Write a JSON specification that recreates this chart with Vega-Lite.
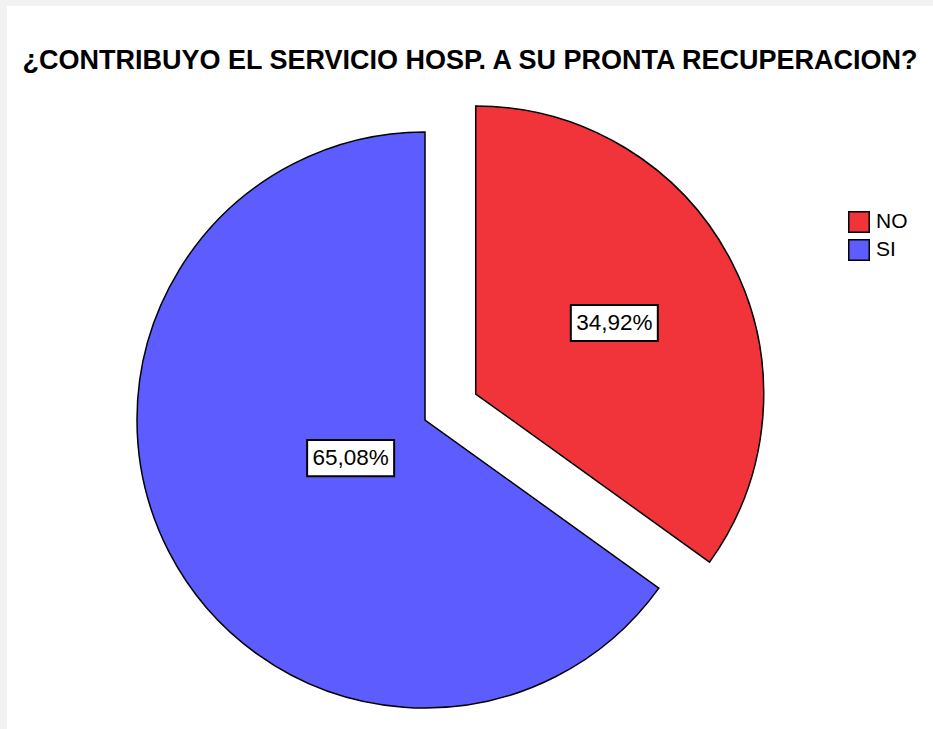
{
  "$schema": "https://vega.github.io/schema/vega-lite/v6.json",
  "width": 926,
  "height": 723,
  "autosize": {"type": "none"},
  "padding": {"left": 7, "top": 6, "right": 0, "bottom": 0},
  "background": "#f2f2f2",
  "view": {"fill": "white", "stroke": null},
  "title": {
    "text": "¿CONTRIBUYO EL SERVICIO HOSP. A SU PRONTA RECUPERACION?",
    "font": "Liberation Sans",
    "fontSize": 27,
    "fontWeight": "bold",
    "color": "black",
    "anchor": "middle",
    "frame": "group",
    "baseline": "alphabetic",
    "offset": -90
  },
  "data": {"values": [
    {"cat": "NO", "pct": 34.92},
    {"cat": "SI", "pct": 65.08}
  ]},
  "transform": [
    {"stack": "pct", "groupby": [], "sort": [{"field": "cat", "order": "ascending"}], "as": ["v0", "v1"]},
    {"calculate": "(datum.v0 + datum.v1) / 100 * PI", "as": "mid"},
    {"calculate": "(datum.v1 - datum.v0) / 100 * PI", "as": "half"},
    {"calculate": "datum.cat == 'NO' ? 57 * sin(datum.mid) : 0", "as": "ex"},
    {"calculate": "datum.cat == 'NO' ? 57 * cos(datum.mid) : 0", "as": "ey"},
    {"calculate": "2 * 288 * sin(datum.half) / (3 * datum.half)", "as": "cr"},
    {"calculate": "datum.ex + datum.cr * sin(datum.mid)", "as": "lx"},
    {"calculate": "datum.ey + datum.cr * cos(datum.mid)", "as": "ly"},
    {"calculate": "replace(format(datum.pct, '.2f'), '.', ',') + '%'", "as": "label"}
  ],
  "layer": [
    {
      "mark": {"type": "arc", "radius": 288, "stroke": "black", "strokeWidth": 1.5},
      "encoding": {
        "theta": {"field": "v0", "type": "quantitative", "scale": {"domain": [0, 100]}},
        "theta2": {"field": "v1"},
        "x": {"field": "ex", "type": "quantitative", "axis": null, "scale": {"domain": [-418, 508], "nice": false, "zero": false}},
        "y": {"field": "ey", "type": "quantitative", "axis": null, "scale": {"domain": [-309, 414], "nice": false, "zero": false}},
        "color": {
          "field": "cat",
          "type": "nominal",
          "scale": {"domain": ["NO", "SI"], "range": ["#F0343A", "#5C5CFF"]},
          "legend": {
            "title": null,
            "orient": "none",
            "legendX": 841,
            "legendY": 205,
            "symbolType": "square",
            "symbolSize": 420,
            "symbolStrokeColor": "black",
            "symbolStrokeWidth": 1.5,
            "symbolOpacity": 1,
            "labelFont": "Liberation Sans",
            "labelFontSize": 21,
            "labelColor": "black",
            "labelOffset": 6,
            "rowPadding": 0,
            "padding": 0
          }
        }
      }
    },
    {
      "mark": {"type": "point", "shape": "M-1,-0.414H1V0.414H-1Z", "size": 7569, "filled": true, "fill": "white", "stroke": "black", "strokeWidth": 2, "opacity": 1},
      "encoding": {
        "x": {"field": "lx", "type": "quantitative", "axis": null, "scale": {"domain": [-418, 508], "nice": false, "zero": false}},
        "y": {"field": "ly", "type": "quantitative", "axis": null, "scale": {"domain": [-309, 414], "nice": false, "zero": false}}
      }
    },
    {
      "mark": {"type": "text", "font": "Liberation Sans", "fontSize": 22.5, "color": "black", "baseline": "middle", "align": "center"},
      "encoding": {
        "x": {"field": "lx", "type": "quantitative", "axis": null, "scale": {"domain": [-418, 508], "nice": false, "zero": false}},
        "y": {"field": "ly", "type": "quantitative", "axis": null, "scale": {"domain": [-309, 414], "nice": false, "zero": false}},
        "text": {"field": "label"}
      }
    }
  ]
}
